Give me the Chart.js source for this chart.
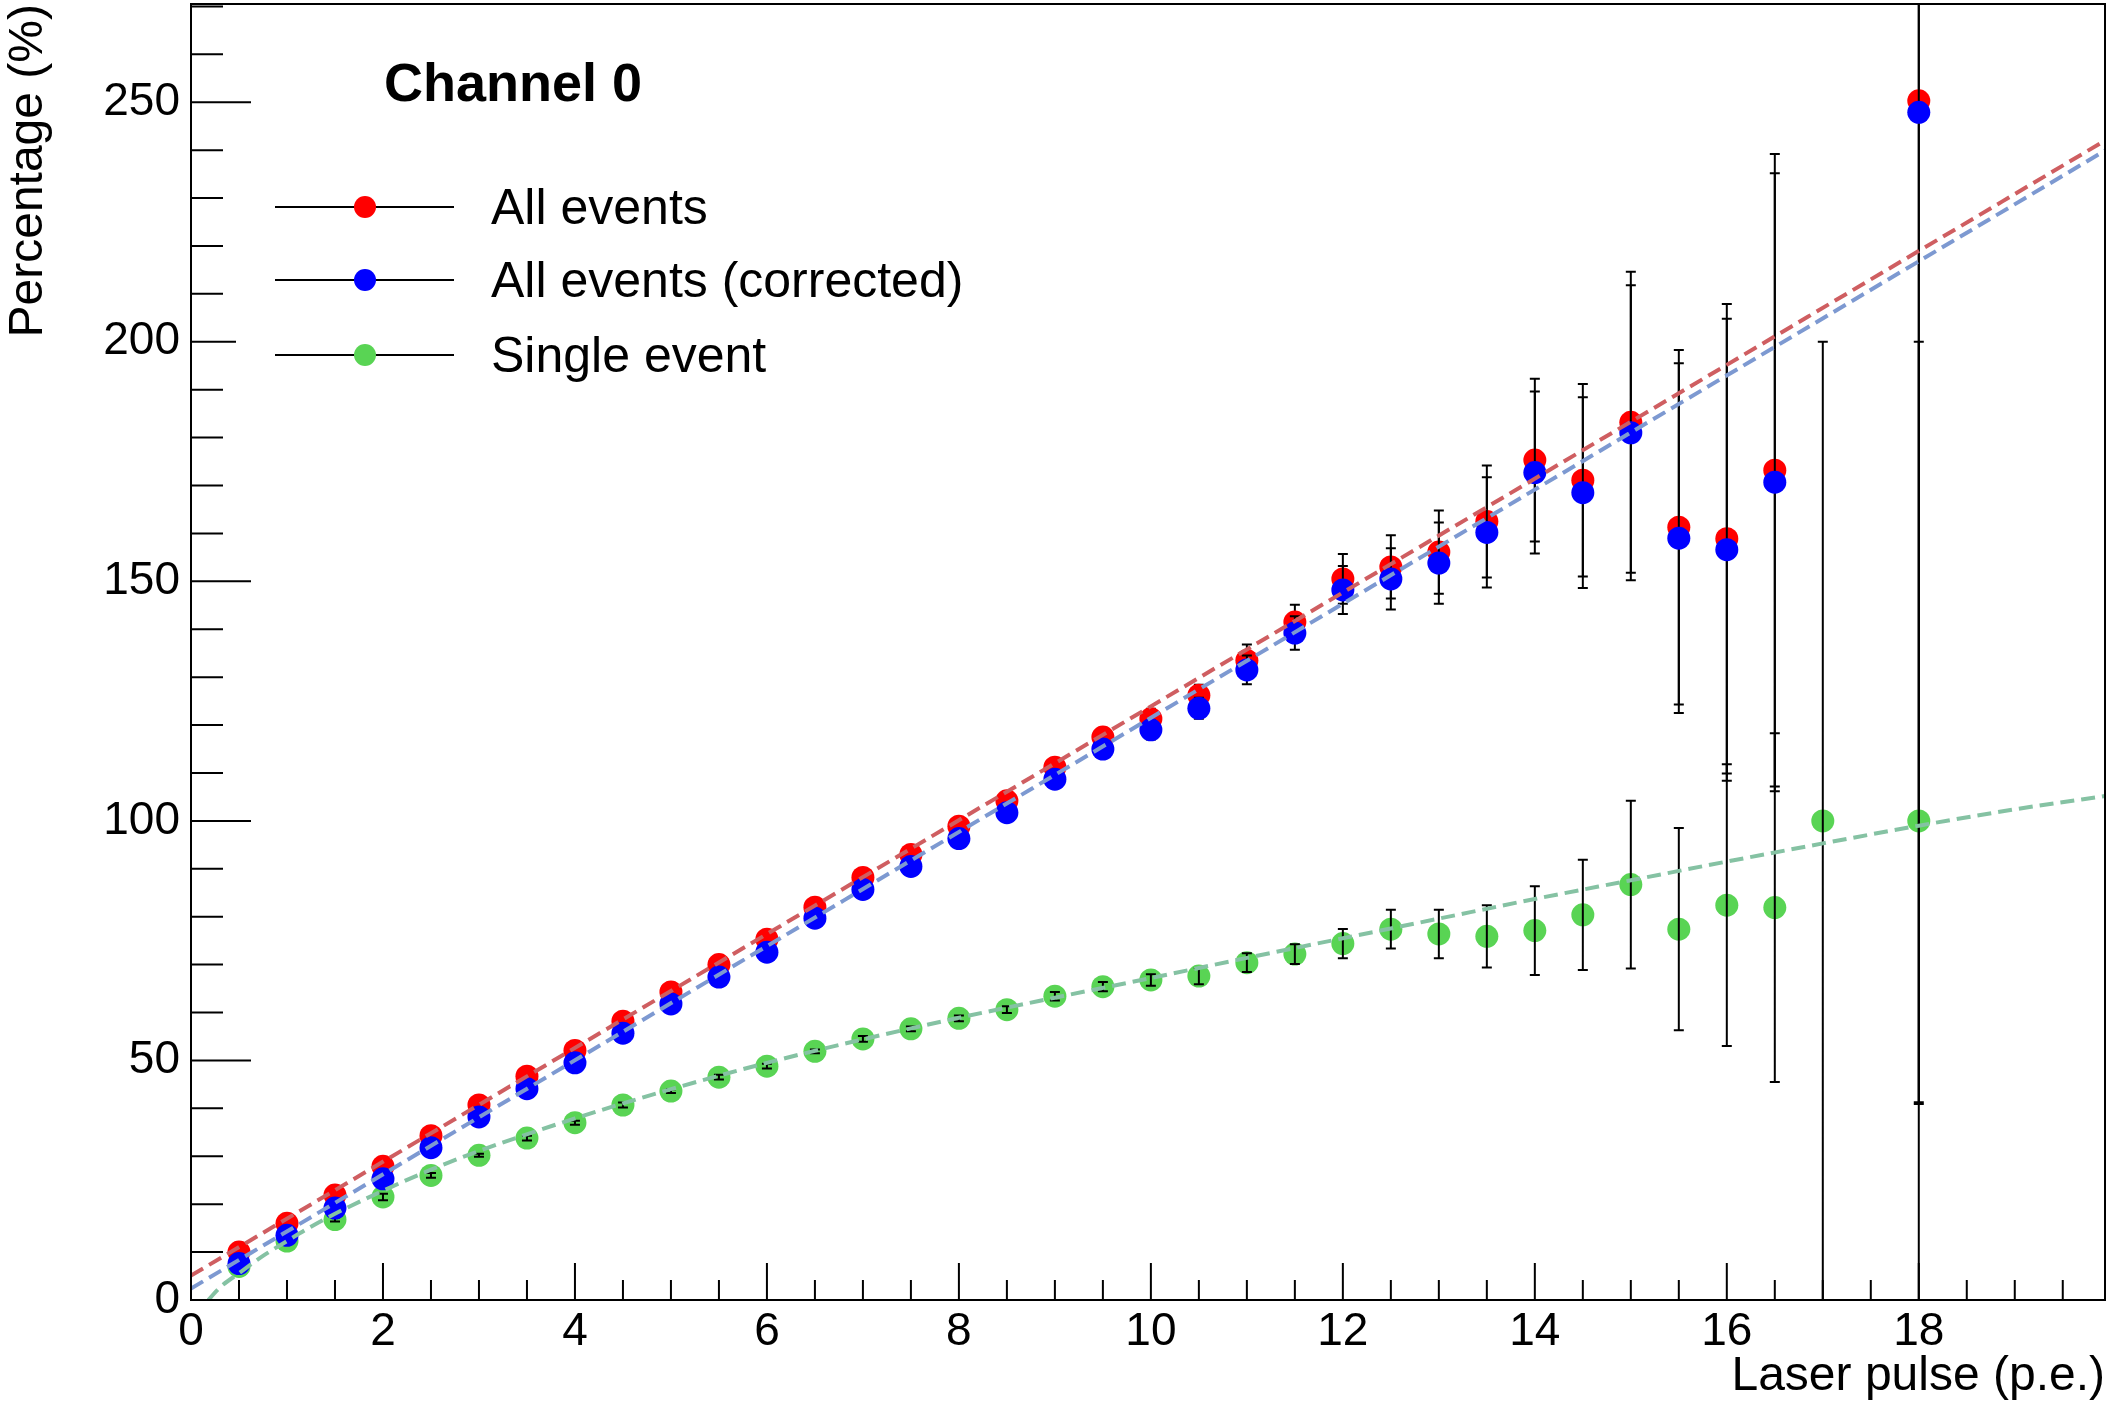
<!DOCTYPE html>
<html>
<head>
<meta charset="utf-8">
<title>Channel 0</title>
<script src="https://cdn.jsdelivr.net/npm/chart.js@4.4.1/dist/chart.umd.min.js"></script>
<style>
  body { margin: 0; background: #fff; overflow: hidden; }
  #wrap { position: relative; width: 2111px; height: 1406px; font-family: 'Liberation Sans', Arial, sans-serif; color: #000; }
  #c { position: absolute; left: 0; top: 0; }
  .legbox { position: absolute; left: 236px; top: 150px; width: 760px; height: 250px; background: #fff; }
  .legline { position: absolute; left: 275px; width: 179px; height: 2px; background: #000; }
  .legdot { position: absolute; width: 22px; height: 22px; border-radius: 50%; }
  .legtext { position: absolute; left: 491px; font-size: 50px; line-height: 50px; height: 50px; white-space: nowrap; }
  .label { position: absolute; left: 384px; top: 55px; font-size: 54px; line-height: 54px; font-weight: bold; white-space: nowrap; }
</style>
</head>
<body>
<div id="wrap">
  <canvas id="c" width="2111" height="1406"></canvas>
  <div class="legbox"></div>
  <div class="label">Channel 0</div>
</div>
<script>
// x positions (laser pulse, p.e.)
var pulseAll = [0.5, 1, 1.5, 2, 2.5, 3, 3.5, 4, 4.5, 5, 5.5, 6, 6.5, 7, 7.5, 8, 8.5,
                9, 9.5, 10, 10.5, 11, 11.5, 12, 12.5, 13, 13.5, 14, 14.5, 15, 15.5, 16, 16.5, 18];
var pulseSingle = [0.5, 1, 1.5, 2, 2.5, 3, 3.5, 4, 4.5, 5, 5.5, 6, 6.5, 7, 7.5, 8, 8.5,
                   9, 9.5, 10, 10.5, 11, 11.5, 12, 12.5, 13, 13.5, 14, 14.5, 15, 15.5, 16, 16.5, 17, 18];

// All events
var allEvents = [10.0, 16.0, 21.9, 27.9, 34.3, 40.7, 46.7, 52.1, 58.2, 64.3, 70.0, 75.3, 82.0, 88.2, 93.0, 98.9, 104.2,
                 111.2, 117.5, 121.3, 126.2, 133.5, 141.5, 150.5, 153.0, 156.1, 162.5, 175.3, 171.1, 183.2, 161.3, 158.9, 173.2, 250.3];
var allEventsErr = [0.3, 0.4, 0.5, 0.5, 0.6, 0.7, 0.8, 0.8, 0.9, 1.0, 1.1, 1.1, 1.2, 1.3, 1.4, 1.5, 1.6,
                    1.8, 1.9, 2.1, 2.2, 3.3, 3.6, 5.2, 6.6, 8.7, 11.7, 17.0, 20.1, 31.4, 37.0, 49.0, 66.0, 209.0];

// All events (corrected)
var allCorrected = [7.6, 13.5, 19.2, 25.3, 31.8, 38.2, 44.1, 49.5, 55.7, 61.8, 67.4, 72.6, 79.7, 85.7, 90.5, 96.3, 101.7,
                    108.7, 115.0, 119.0, 123.5, 131.5, 139.2, 148.2, 150.5, 153.8, 160.2, 172.7, 168.5, 181.0, 159.0, 156.6, 170.7, 247.9];
var allCorrectedErr = [0.3, 0.4, 0.5, 0.5, 0.6, 0.7, 0.8, 0.8, 0.9, 1.0, 1.1, 1.1, 1.2, 1.3, 1.4, 1.5, 1.6,
                       1.7, 1.8, 2.0, 2.2, 3.0, 3.5, 5.0, 6.4, 8.5, 11.5, 16.9, 19.9, 30.8, 36.5, 48.2, 64.5, 207.0];

// Single event
var singleEvent = [7.0, 12.3, 16.8, 21.5, 26.0, 30.2, 33.8, 37.0, 40.7, 43.6, 46.5, 48.8, 51.9, 54.5, 56.6, 58.8, 60.6,
                   63.4, 65.4, 66.8, 67.6, 70.4, 72.2, 74.4, 77.4, 76.4, 75.9, 77.1, 80.4, 86.7, 77.4, 82.4, 81.9, 100.0, 100.0];
var singleEventErr = [0.2, 0.3, 0.4, 0.7, 0.5, 0.3, 0.5, 0.4, 0.5, 0.4, 0.5, 0.5, 0.4, 0.6, 0.5, 0.6, 0.7,
                      0.9, 0.95, 1.2, 1.7, 1.95, 2.05, 3.05, 4.05, 5.05, 6.5, 9.25, 11.5, 17.5, 21.1, 29.4, 36.4, 100.0, 100.0];

// fitted curves
var fitAllX = [0, 19.94];
var fitAllY = [5.1, 242.0];
var fitCorrectedY = [2.4, 239.9];
var fitSingleX = [0.18, 0.3, 0.5, 0.75, 1, 1.25, 1.5, 2, 2.5, 3, 4, 5, 6, 7, 8, 9, 10,
                  11, 12, 13, 14, 15, 16, 17, 18, 19, 19.94];
var fitSingleY = [0, 2.6, 5.6, 9.2, 12.3, 15.3, 18.0, 22.8, 27.2, 31.1, 37.9, 44.0, 49.5, 54.4, 58.9, 63.1, 67.2,
                  71.4, 75.5, 79.6, 83.7, 87.6, 91.5, 95.3, 99.0, 102.4, 105.2];

var seriesNames = ['All events', 'All events (corrected)', 'Single event'];
var markerColors = ['rgb(255, 0, 0)', 'rgb(0, 0, 255)', 'rgb(89, 212, 84)'];
var fitColors = ['rgb(207, 94, 97)', 'rgb(125, 153, 209)', 'rgb(133, 194, 163)'];

function points (xs, ys) {
	return xs.map(function (x, i) { return {x: x, y: ys[i]}; });
}

function markers (name, xs, ys, errs, color, order, errOnTop) {
	return {
		label: name,
		data: points(xs, ys),
		errors: errs,
		errorsOnTop: errOnTop,
		pointRadius: 11.5,
		pointHoverRadius: 11.5,
		pointBorderWidth: 0,
		pointBackgroundColor: color,
		borderColor: color,
		showLine: false,
		order: order
	};
}

function fitLine (xs, ys, color, order) {
	return {
		label: 'fit',
		data: points(xs, ys),
		showLine: true,
		pointRadius: 0,
		borderColor: color,
		borderWidth: 4,
		borderDash: [14, 7],
		cubicInterpolationMode: 'monotone',
		fill: false,
		order: order
	};
}

function drawErrors (chart, meta, ds) {
	var ctx = chart.ctx, ys = chart.scales.y, a = chart.chartArea;
	ctx.save();
	ctx.beginPath();
	ctx.rect(a.left, a.top, a.right - a.left, a.bottom - a.top);
	ctx.clip();
	ctx.strokeStyle = '#000';
	ctx.lineWidth = 2;
	ctx.beginPath();
	meta.data.forEach(function (pt, i) {
		var v = ds.data[i].y, e = ds.errors[i];
		var top = ys.getPixelForValue(v + e), bot = ys.getPixelForValue(v - e);
		ctx.moveTo(pt.x, top); ctx.lineTo(pt.x, bot);
		ctx.moveTo(pt.x - 5, top); ctx.lineTo(pt.x + 5, top);
		ctx.moveTo(pt.x - 5, bot); ctx.lineTo(pt.x + 5, bot);
	});
	ctx.stroke();
	ctx.restore();
}

var errorBars = {
	id: 'errorBars',
	beforeDatasetDraw: function (chart, args) {
		var ds = chart.data.datasets[args.index];
		if (ds.errors && !ds.errorsOnTop) drawErrors(chart, args.meta, ds);
	},
	afterDatasetDraw: function (chart, args) {
		var ds = chart.data.datasets[args.index];
		if (ds.errors && ds.errorsOnTop) drawErrors(chart, args.meta, ds);
	}
};

// frame and inside ticks, root style
var frame = {
	id: 'frame',
	afterDraw: function (chart) {
		var ctx = chart.ctx, a = chart.chartArea, xs = chart.scales.x, ys = chart.scales.y;
		ctx.save();
		ctx.strokeStyle = '#000';
		ctx.lineWidth = 2;
		ctx.beginPath();
		for (var i = 0; i * 0.5 <= xs.max; i++) {
			var px = xs.getPixelForValue(i * 0.5);
			ctx.moveTo(px, a.bottom);
			ctx.lineTo(px, a.bottom - ((i % 4 === 0) ? 37 : 20));
		}
		for (var j = 0; j * 10 <= ys.max; j++) {
			var py = ys.getPixelForValue(j * 10);
			ctx.moveTo(a.left, py);
			ctx.lineTo(a.left + ((j % 5 === 0) ? 60 : 32), py);
		}
		ctx.stroke();
		ctx.strokeRect(a.left, a.top, a.right - a.left, a.bottom - a.top);
		ctx.restore();
	}
};

Chart.defaults.font.family = "'Liberation Sans', Arial, sans-serif";
Chart.defaults.color = '#000';

new Chart(document.getElementById('c').getContext('2d'), {
	type: 'scatter',
	data: {
		datasets: [
			fitLine(fitAllX, fitAllY, fitColors[0], 1),
			fitLine(fitAllX, fitCorrectedY, fitColors[1], 2),
			fitLine(fitSingleX, fitSingleY, fitColors[2], 3),
			markers(seriesNames[1], pulseAll, allCorrected, allCorrectedErr, markerColors[1], 4, false),
			markers(seriesNames[2], pulseSingle, singleEvent, singleEventErr, markerColors[2], 5, true),
			markers(seriesNames[0], pulseAll, allEvents, allEventsErr, markerColors[0], 6, false)
		]
	},
	options: {
		responsive: false,
		devicePixelRatio: 1,
		animation: false,
		layout: { autoPadding: false, padding: { left: 0, right: 6, top: 4, bottom: 0 } },
		plugins: { legend: { display: false }, tooltip: { enabled: false } },
		scales: {
			x: {
				type: 'linear', min: 0, max: 19.94,
				grid: { display: false, drawTicks: false },
				border: { display: false },
				ticks: { stepSize: 2, includeBounds: false, autoSkip: false, maxRotation: 0, padding: 5, font: { size: 46 } },
				title: { display: true, text: 'Laser pulse (p.e.)', align: 'end', font: { size: 48 }, padding: 0 },
				afterFit: function (s) { s.height = 106; s.paddingLeft = 0; s.paddingRight = 0; }
			},
			y: {
				type: 'linear', min: 0, max: 270.5,
				grid: { display: false, drawTicks: false },
				border: { display: false },
				ticks: { stepSize: 50, includeBounds: false, padding: 11, font: { size: 46 } },
				title: { display: true, text: 'Percentage (%)', align: 'end', font: { size: 48 }, padding: 0 },
				afterFit: function (s) { s.width = 191; s.paddingTop = 0; s.paddingBottom = 0; }
			}
		}
	},
	plugins: [errorBars, frame]
});

// legend, root style: line with marker in the middle
var wrap = document.getElementById('wrap');
var legY = [207, 280, 355];
seriesNames.forEach(function (name, i) {
	var ln = document.createElement('div');
	ln.className = 'legline';
	ln.style.top = (legY[i] - 1) + 'px';
	wrap.appendChild(ln);
	var dot = document.createElement('div');
	dot.className = 'legdot';
	dot.style.left = (365 - 11) + 'px';
	dot.style.top = (legY[i] - 11) + 'px';
	dot.style.background = markerColors[i];
	wrap.appendChild(dot);
	var tx = document.createElement('div');
	tx.className = 'legtext';
	tx.style.top = (legY[i] - 25) + 'px';
	tx.textContent = name;
	wrap.appendChild(tx);
});
</script>
</body>
</html>
